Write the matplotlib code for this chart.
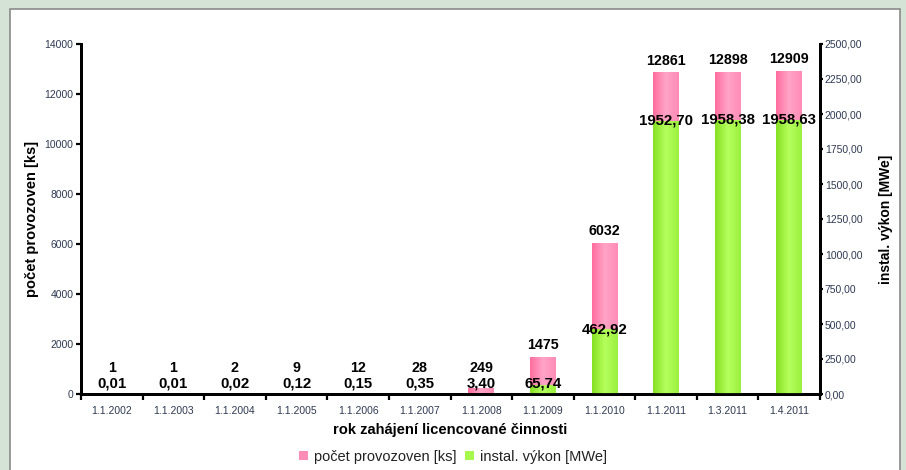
import matplotlib
matplotlib.use('Agg')
import matplotlib.pyplot as plt
import numpy as np
from matplotlib.colors import LinearSegmentedColormap
from matplotlib.patches import Rectangle

plt.rcParams['font.family'] = ['Liberation Sans', 'DejaVu Sans']

dates = ['1.1.2002', '1.1.2003', '1.1.2004', '1.1.2005', '1.1.2006', '1.1.2007',
         '1.1.2008', '1.1.2009', '1.1.2010', '1.1.2011', '1.3.2011', '1.4.2011']
counts = [1, 1, 2, 9, 12, 28, 249, 1475, 6032, 12861, 12898, 12909]
power = [0.01, 0.01, 0.02, 0.12, 0.15, 0.35, 3.40, 65.74, 462.92, 1952.70, 1958.38, 1958.63]

count_max = 14000
power_max = 2500
tick_color = '#2e3a52'

pink_map = LinearSegmentedColormap.from_list('pink', ['#ff6d9e', '#ffa4c6', '#ff8cb6'])
green_map = LinearSegmentedColormap.from_list('green', ['#86e021', '#b6ff5e', '#9cf03e'])
gradient = np.linspace(0, 1, 64).reshape(1, -1)


def shade_bars(axes, bars, cmap):
    # fill each bar with a horizontal gradient clipped to its rectangle
    for bar in bars:
        x0 = bar.get_x()
        x1 = x0 + bar.get_width()
        h = bar.get_height()
        img = axes.imshow(gradient, cmap=cmap, aspect='auto', extent=(x0, x1, 0, h),
                          interpolation='bicubic', zorder=bar.get_zorder())
        img.set_clip_path(bar)
        bar.set_facecolor('none')


fig = plt.figure(figsize=(9.06, 4.7), dpi=100)
fig.patch.set_facecolor('#d4e3d6')
fig.patches.append(Rectangle((10 / 906, -0.05), 890 / 906, 1.05 - 9 / 470,
                             transform=fig.transFigure, facecolor='white',
                             edgecolor='#8a8a8a', linewidth=1.2, zorder=-10))

ax = fig.add_axes([81 / 906, 1 - 394 / 470, 739 / 906, 350 / 470])
ax.set_facecolor('none')
ax2 = ax.twinx()
ax2.set_facecolor('none')

x = np.arange(len(dates))
width = 0.42

pink_bars = ax.bar(x, counts, width, color='#ff8cb6', linewidth=0, zorder=2)
green_bars = ax2.bar(x, power, width, color='#a6f84a', linewidth=0, zorder=2)
shade_bars(ax, pink_bars, pink_map)
shade_bars(ax2, green_bars, green_map)

ax.set_xlim(-0.5, len(dates) - 0.5)
ax.set_ylim(0, count_max)
ax2.set_ylim(0, power_max)

# count labels above the pink bars, kept clear of the power labels
for i, c in enumerate(counts):
    y = max(c, count_max * 14 / 350)
    ax.annotate(str(c), (i, y), xytext=(0, 8.6), textcoords='offset points',
                ha='center', va='center', fontsize=10.3, fontweight='bold', zorder=5)

# power labels sitting on the top edge of the green bars
for i, p in enumerate(power):
    y = max(p, power_max * 11 / 350)
    ax2.annotate(f'{p:.2f}'.replace('.', ','), (i, y), ha='center', va='center',
                 fontsize=10.8, fontweight='bold', zorder=5)

ax.set_yticks(np.arange(0, count_max + 1, 2000))
ax2.set_yticks(np.arange(0, power_max + 1, 250))
ax2.set_yticklabels([f'{v:.2f}'.replace('.', ',') for v in np.arange(0, power_max + 1, 250)])

ax.set_xticks(x)
ax.set_xticklabels(dates)
ax.set_xticks(np.arange(-0.5, len(dates), 1.0), minor=True)
ax.tick_params(axis='x', which='major', length=0, pad=9, labelsize=7.5, labelcolor=tick_color)
ax.tick_params(axis='x', which='minor', length=4, width=1.6, direction='out', color='black')
ax.tick_params(axis='y', length=3.5, width=1.6, labelsize=7.5, labelcolor=tick_color, pad=2)
ax2.tick_params(axis='y', length=2.5, width=1.6, labelsize=7.5, labelcolor=tick_color, pad=1)

for a in (ax, ax2):
    a.spines['top'].set_visible(False)
    for side in ('left', 'right', 'bottom'):
        a.spines[side].set_linewidth(2)
        a.spines[side].set_color('black')
ax2.spines['bottom'].set_zorder(6)

ax.set_ylabel('počet provozoven [ks]', fontsize=10.5, fontweight='bold', labelpad=4)
ax2.set_ylabel('instal. výkon [MWe]', fontsize=10, fontweight='bold', labelpad=12)
ax.set_xlabel('rok zahájení licencované činnosti', fontsize=10.6, fontweight='bold', labelpad=5)

legend_pink = Rectangle((0, 0), 1, 1, facecolor='#ff8cb6')
legend_green = Rectangle((0, 0), 1, 1, facecolor='#a6f84a')
fig.legend([legend_pink, legend_green], ['počet provozoven [ks]', 'instal. výkon [MWe]'],
           loc='center', bbox_to_anchor=(0.5, 1 - 457 / 470), ncol=2, frameon=False,
           fontsize=10.5, handlelength=0.6, handleheight=0.6, handletextpad=0.4,
           columnspacing=0.6, labelcolor='#222222')

fig.savefig('out.png', dpi=100, facecolor=fig.get_facecolor())
